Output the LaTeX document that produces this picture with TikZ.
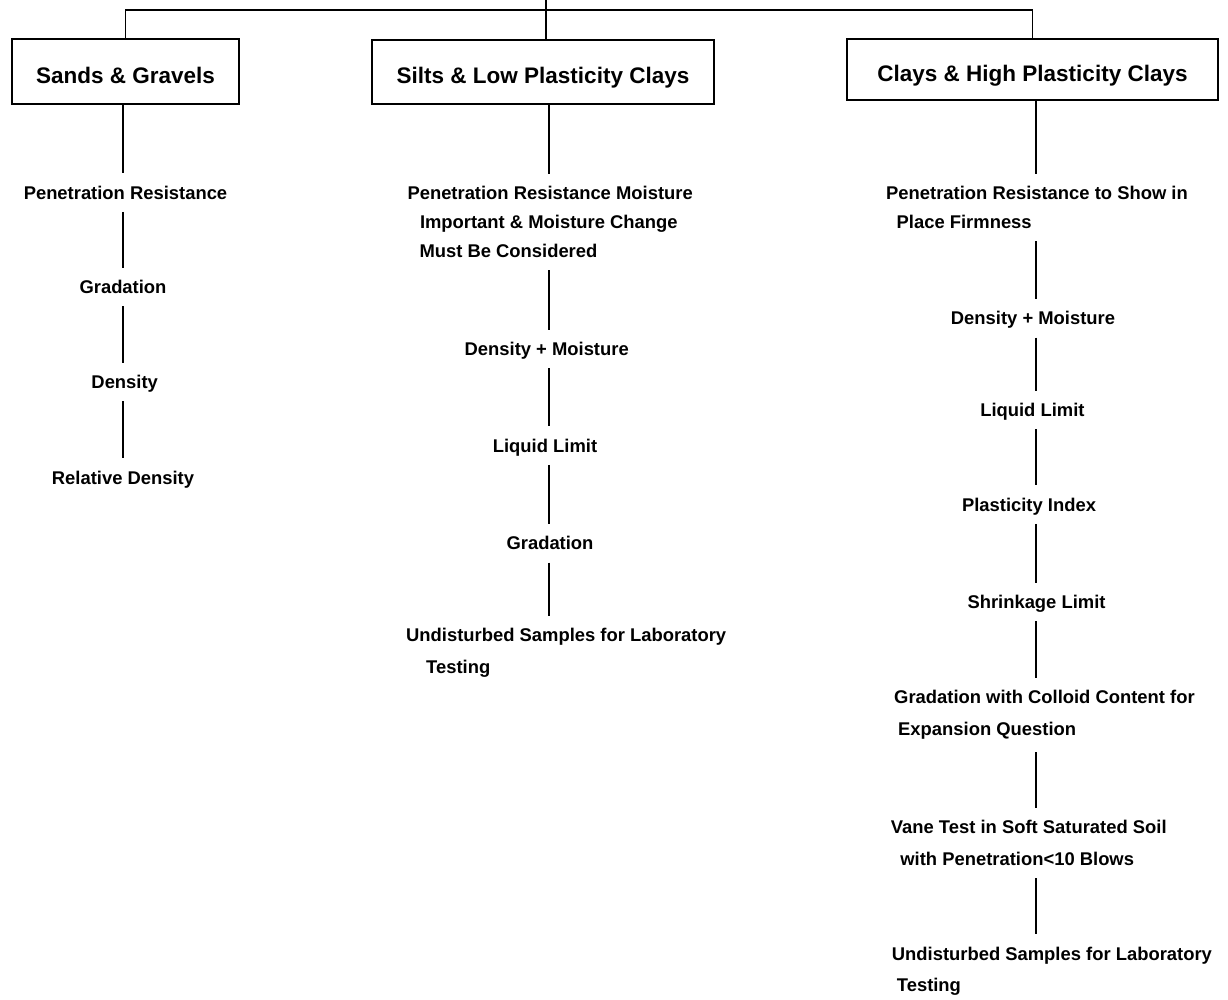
\documentclass[tikz,border=0pt]{standalone}
\usepackage{fontspec}
\setmainfont{Liberation Sans}
\usetikzlibrary{calc}

\begin{document}
\begin{tikzpicture}[x=1pt,y=-1pt,
                        link/.style={line width=1.9pt},
                        group/.style={draw,line width=1.9pt,inner sep=0pt,text height=23pt,text depth=0pt,
                        font=\bfseries\fontsize{22.5}{27}\selectfont},
                        test/.style={inner xsep=0pt,inner ysep=12.5pt,text height=13.2pt,text depth=0pt,
                        font=\bfseries\fontsize{18.4}{22}\selectfont},
                        tests/.style={inner xsep=0pt,inner ysep=12.5pt,anchor=north west,align=left,
                        font=\bfseries\fontsize{18.4}{#1}\selectfont},
                        tests/.default=29
                        ]
                        \useasboundingbox (0,0) rectangle (1228,999);
                        \coordinate (top) at (546,0);
                        \coordinate (bar) at (546,10);
                        \coordinate (c1) at (123,0);
                        \coordinate (c2) at (549,0);
                        \coordinate (c3) at (1036,0);

                        % soil groups
                        \node[group,minimum width=227pt,minimum height=65pt] (b1) at (125.5,71.5) {Sands \& Gravels};
                        \node[group,minimum width=342pt,minimum height=64pt] (b2) at (543,72) {Silts \& Low Plasticity Clays};
                        \node[group,minimum width=371pt,minimum height=61pt] (b3) at (1032.5,69.5) {Clays \& High Plasticity Clays};

                        % sands and gravels
                        \node[test] (pr1) at (125.5,192.6) {Penetration Resistance};
                        \node[test] (gr1) at (123,287) {Gradation};
                        \node[test] (de1) at (124.7,382) {Density};
                        \node[test] (rd1) at (123,477.5) {Relative Density};

                        % silts
                        \node[tests] (pr2) at (407.3,173.5) {Penetration Resistance Moisture\\
                        \hspace*{12.5pt}Important \& Moisture Change\\\hspace*{12pt}Must Be Considered};
                        \node[test] (dm2) at (546.7,348.8) {Density + Moisture};
                        \node[test] (ll2) at (545,445.5) {Liquid Limit};
                        \node[test] (gr2) at (550,543.3) {Gradation};
                        \node[tests=32] (us2) at (406,615.5) {Undisturbed Samples for Laboratory\\\hspace*{20pt}Testing};

                        % clays
                        \node[tests] (pr3) at (886,173.5) {Penetration Resistance to Show in\\\hspace*{10.5pt}Place Firmness};
                        \node[test] (dm3) at (1033,318.3) {Density + Moisture};
                        \node[test] (ll3) at (1032.4,410) {Liquid Limit};
                        \node[test] (pi3) at (1029,504.5) {Plasticity Index};
                        \node[test] (sl3) at (1036.5,602) {Shrinkage Limit};
                        \node[tests=32] (gc3) at (894,677.5) {Gradation with Colloid Content for\\\hspace*{4pt}Expansion Question};
                        \node[tests=32] (vt3) at (890.7,807.5) {Vane Test in Soft Saturated Soil\\\hspace*{9.5pt}with Penetration<10 Blows};
                        \node[tests=31] (us3) at (891.7,934.2) {Undisturbed Samples for Laboratory\\\hspace*{5pt}Testing};

                        % draw tree
                        \draw[link] (top) -- (bar);
                        \draw[link] (b1.north) |- (bar) -| (b3.north);
                        \draw[link] (bar) -- (bar |- b2.north);

                        \draw[link] (c1 |- b1.south) -- (c1 |- pr1.north)
                        (c1 |- pr1.south) -- (c1 |- gr1.north)
                        (c1 |- gr1.south) -- (c1 |- de1.north)
                        (c1 |- de1.south) -- (c1 |- rd1.north);
                        \draw[link] (c2 |- b2.south) -- (c2 |- pr2.north)
                        (c2 |- pr2.south) -- (c2 |- dm2.north)
                        (c2 |- dm2.south) -- (c2 |- ll2.north)
                        (c2 |- ll2.south) -- (c2 |- gr2.north)
                        (c2 |- gr2.south) -- (c2 |- us2.north);
                        \draw[link] (c3 |- b3.south) -- (c3 |- pr3.north)
                        (c3 |- pr3.south) -- (c3 |- dm3.north)
                        (c3 |- dm3.south) -- (c3 |- ll3.north)
                        (c3 |- ll3.south) -- (c3 |- pi3.north)
                        (c3 |- pi3.south) -- (c3 |- sl3.north)
                        (c3 |- sl3.south) -- (c3 |- gc3.north)
                        (c3 |- gc3.south) -- (c3 |- vt3.north)
                        (c3 |- vt3.south) -- (c3 |- us3.north);
                \end{tikzpicture}
\end{document}
